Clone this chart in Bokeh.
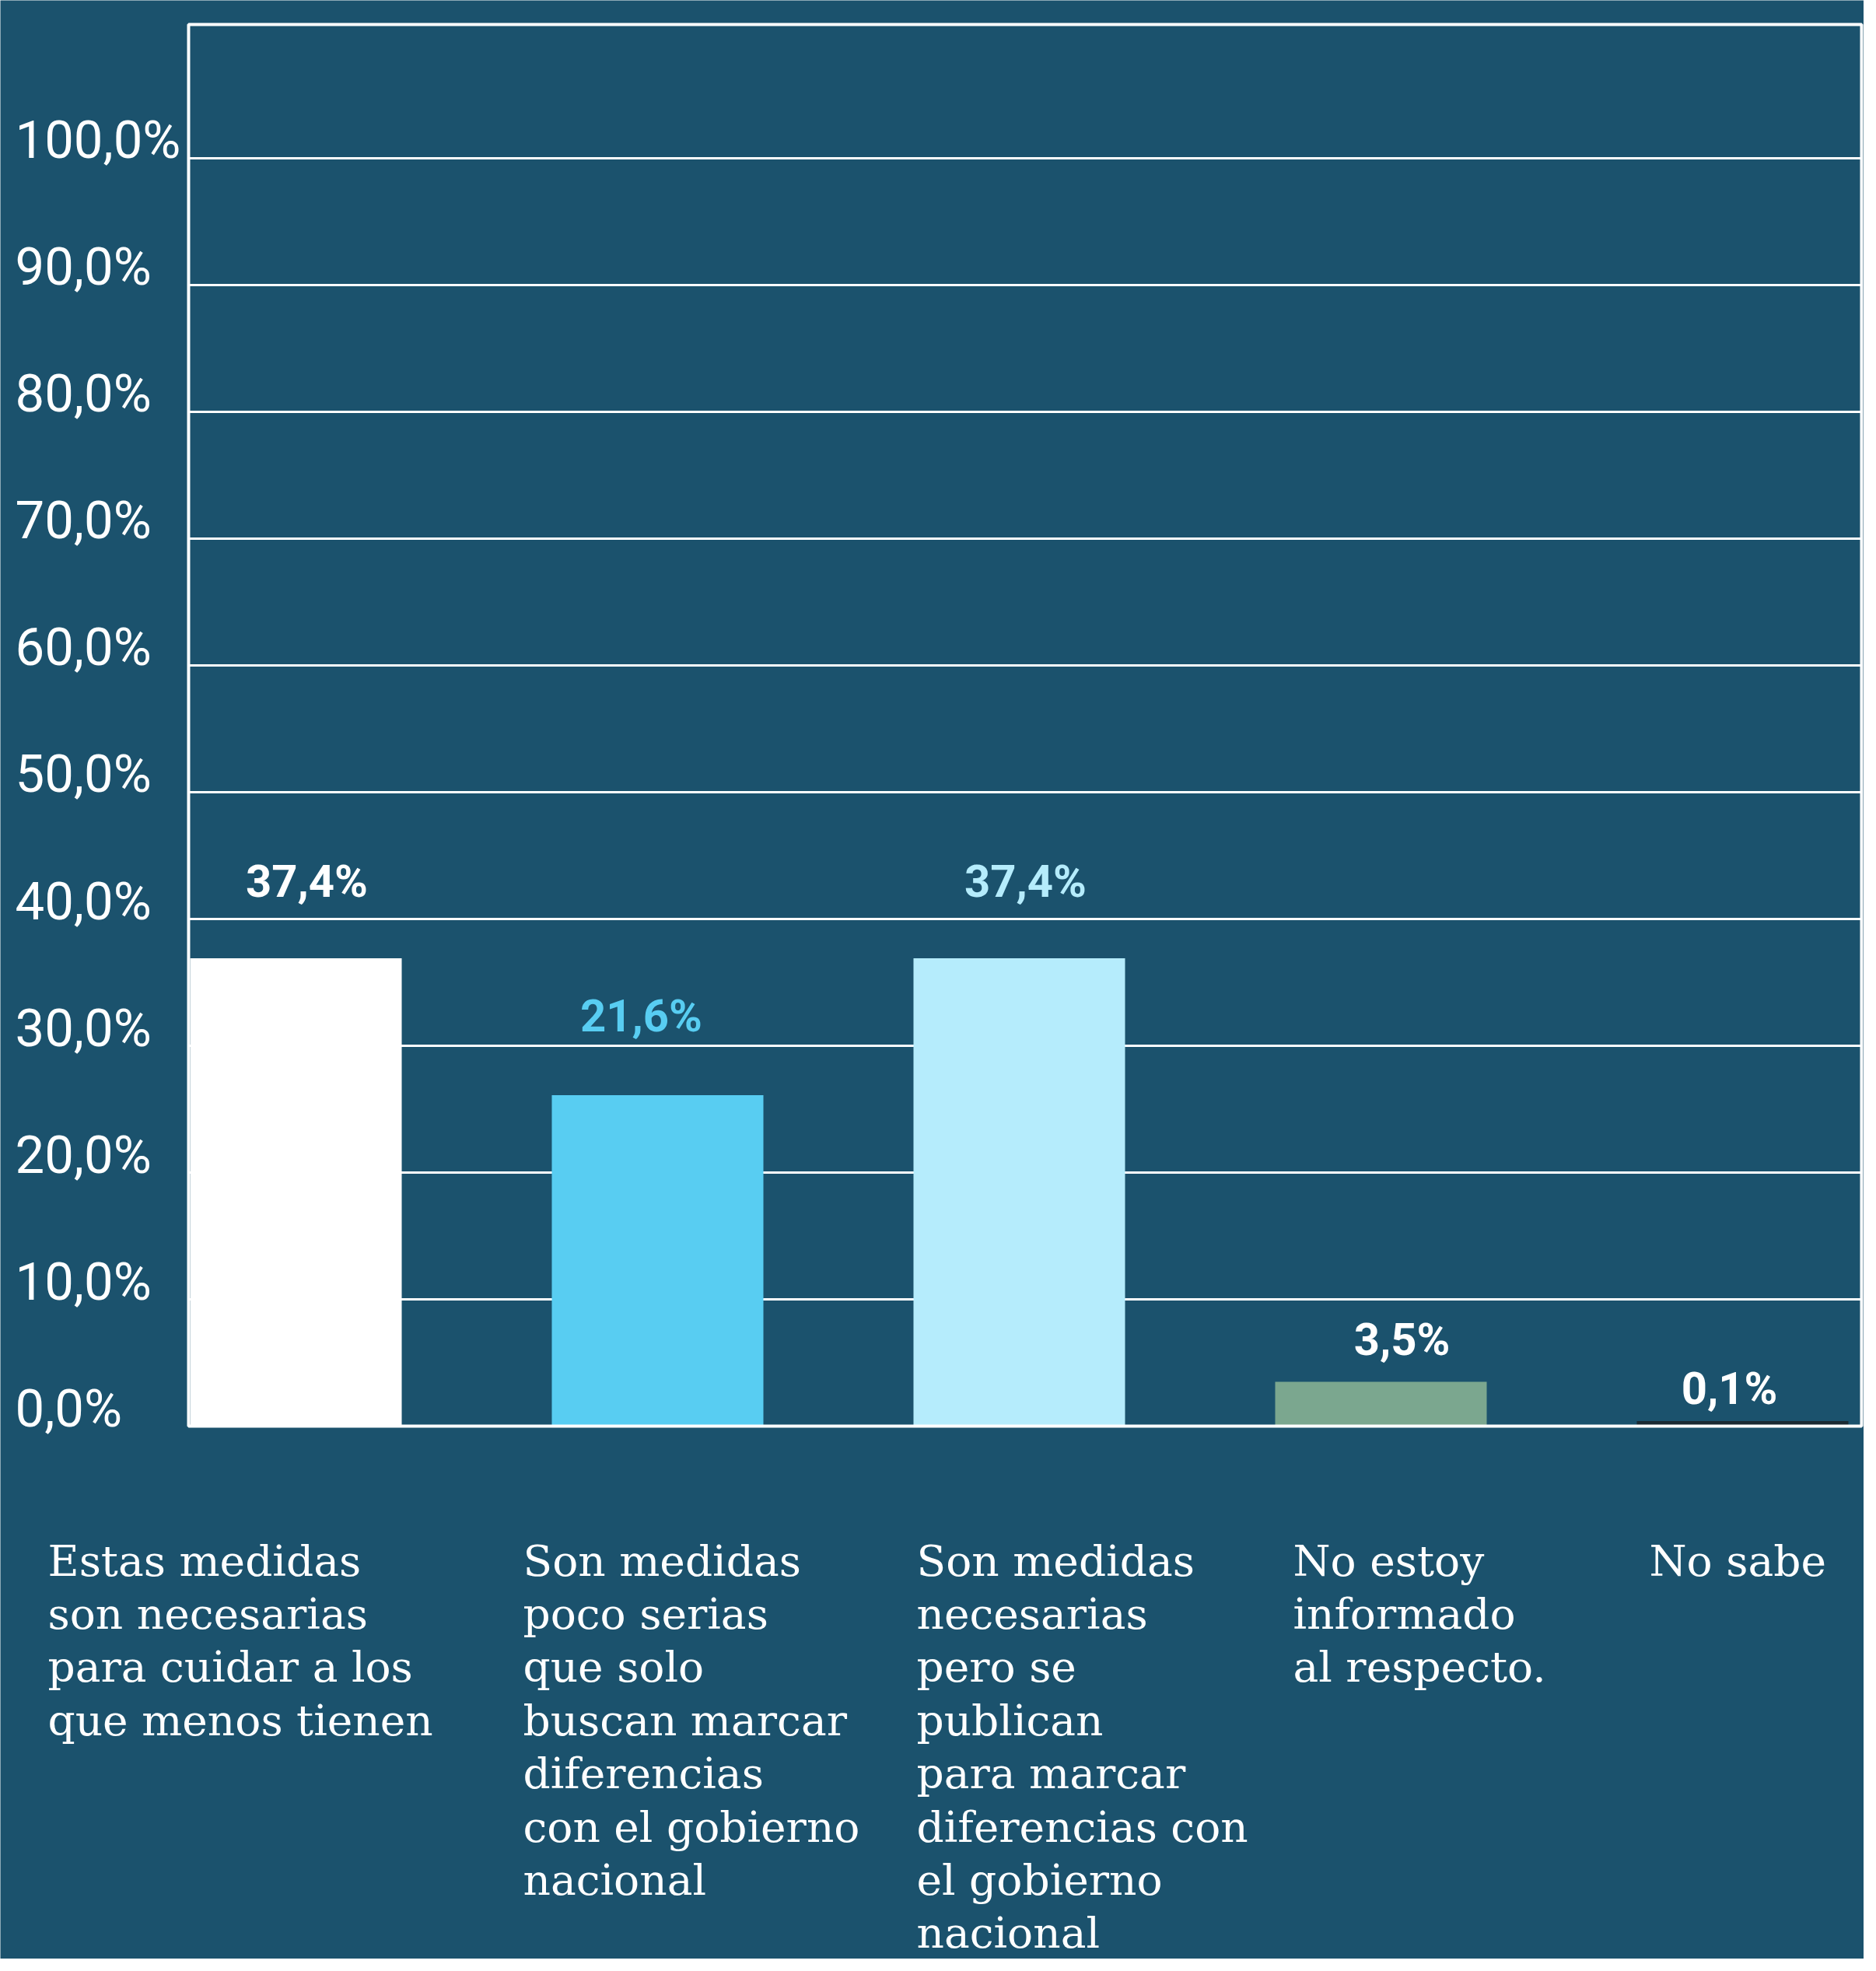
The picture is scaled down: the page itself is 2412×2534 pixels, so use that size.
from bokeh.plotting import figure
from bokeh.models import ColumnDataSource, LabelSet, Range1d
from bokeh.core.properties import value
from bokeh.embed import file_html
from bokeh.resources import INLINE

# ---- data ----
categories = [
    "Estas medidas\nson necesarias\npara cuidar a los\nque menos tienen",
    "Son medidas\npoco serias\nque solo\nbuscan marcar\ndiferencias\ncon el gobierno\nnacional",
    "Son medidas\nnecesarias\npero se\npublican\npara marcar\ndiferencias con\nel gobierno\nnacional",
    "No estoy\ninformado\nal respecto.",
    "No sabe",
]
bar_values = [36.9, 26.1, 36.9, 3.5, 0.4]          # bar heights as drawn
value_labels = ["37,4%", "21,6%", "37,4%", "3,5%", "0,1%"]
y_ticks = [0, 10, 20, 30, 40, 50, 60, 70, 80, 90, 100]
y_tick_labels = ["0,0%", "10,0%", "20,0%", "30,0%", "40,0%", "50,0%",
                 "60,0%", "70,0%", "80,0%", "90,0%", "100,0%"]

# ---- styles / layout ----
BG = "#1b526d"
bar_colors = ["#ffffff", "#58cdf2", "#b5ecfc", "#7ba78f", "#1b2a33"]
label_colors = ["#ffffff", "#58cdf2", "#b5ecfc", "#ffffff", "#ffffff"]
W, H = 2396, 2518
label_dy = [79, 82, 79, 34, 22]
label_dx = [14, -21, 8, 27, -17]
cat_dx = [-319, -173, -132, -113, -120]
CAT_DY = -141
TICK_DX = -223
# chart box (value-axis area) in data units
BOX_L, BOX_R = -0.2968, 4.329
BOX_B, BOX_T = 0.0, 110.55
# full canvas extent in data units
X0, X1 = -0.8172, 4.3355
Y0, Y1 = -42.02, 112.45

idx = list(range(len(categories)))

p = figure(width=W, height=H, output_backend="svg", toolbar_location=None,
           x_range=Range1d(X0, X1), y_range=Range1d(Y0, Y1),
           x_axis_type=None, y_axis_type=None, min_border=0)
p.background_fill_color = BG
p.border_fill_color = BG
p.outline_line_color = None
p.xgrid.visible = False
p.ygrid.visible = False

# horizontal gridlines at the value ticks
gsrc = ColumnDataSource(dict(y=y_ticks[1:]))
p.segment(x0=BOX_L, x1=BOX_R, y0="y", y1="y", source=gsrc,
          line_color="white", line_width=3)

src = ColumnDataSource(dict(x=idx, top=bar_values, color=bar_colors,
                            lab=value_labels, lcol=label_colors,
                            dy=label_dy, dx=label_dx, cat=categories, cdx=cat_dx))

p.vbar(x="x", top="top", bottom=0, width=0.585, fill_color="color",
       line_color=None, source=src)

# chart box
p.quad(left=BOX_L, right=BOX_R, bottom=BOX_B, top=BOX_T,
       fill_color=None, line_color="white", line_width=4)

vals = LabelSet(x="x", y="top", text="lab", source=src,
                x_offset="dx", y_offset="dy",
                text_align="center", text_baseline="alphabetic",
                text_font=value("Roboto"), text_font_style="bold",
                text_font_size="58px", text_color="lcol")
p.add_layout(vals)

cats = LabelSet(x="x", y=0, text="cat", source=src,
                x_offset="cdx", y_offset=CAT_DY,
                text_align="left", text_baseline="top",
                text_font=value("DejaVu Serif"), text_font_size="55px",
                text_line_height=1.069, text_color="white")
p.add_layout(cats)

tsrc = ColumnDataSource(dict(y=y_ticks, t=y_tick_labels))
ticks = LabelSet(x=BOX_L, y="y", text="t", source=tsrc,
                 x_offset=TICK_DX, y_offset=0,
                 text_align="left", text_baseline="alphabetic",
                 text_font=value("Roboto"), text_font_size="67px",
                 text_color="white")
p.add_layout(ticks)

open("out.html", "w").write(file_html(p, INLINE))
